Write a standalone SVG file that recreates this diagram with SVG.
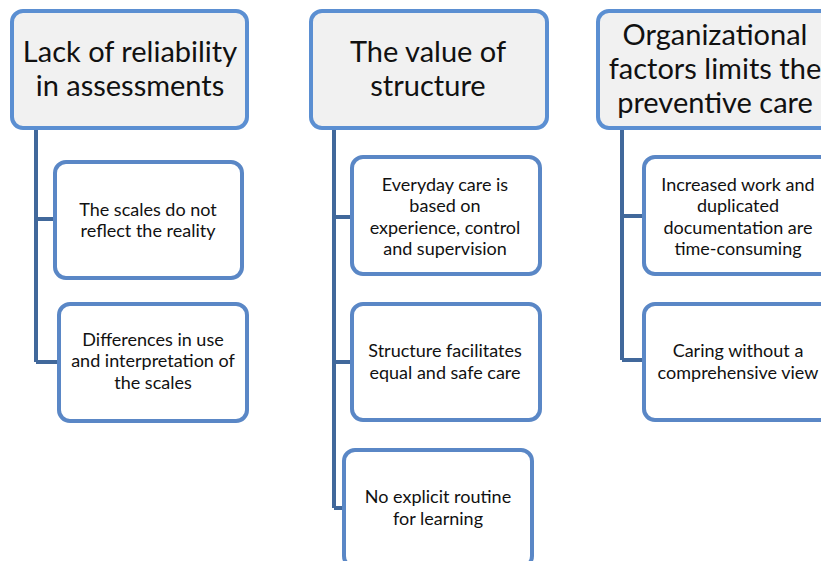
<svg xmlns="http://www.w3.org/2000/svg" width="821" height="561" viewBox="0 0 821 561">
  <style>
    .head rect { fill: #f1f1f1; stroke: #5b8fd2; stroke-width: 4; }
    .item rect { fill: #ffffff; stroke: #5a87c6; stroke-width: 4; }
    .head text { font-family: Lato, "Open Sans", sans-serif; font-size: 29px; fill: #111; text-anchor: middle; }
    .item text { font-family: Lato, "Open Sans", sans-serif; font-size: 18px; fill: #111; text-anchor: middle; }
    .links path { fill: none; stroke: #41689b; stroke-width: 4; }
  </style>

  <g class="links">
    <path d="M36 128 V362 M36 219 H55 M36 362 H59"/>
    <path d="M334 128 V508 M334 217 H352 M334 362 H352 M334 508 H344"/>
    <path d="M622 128 V360 M622 216 H644 M622 360 H644"/>
  </g>

  <g id="lack-reliability" class="head">
    <rect x="12" y="11" width="235" height="117" rx="11"/>
    <text x="130" y="62">Lack of reliability</text>
    <text x="130" y="96">in assessments</text>
  </g>
  <g id="scales-reality" class="item">
    <rect x="55" y="162" width="187" height="116" rx="11"/>
    <text x="148" y="216">The scales do not</text>
    <text x="148" y="237">reflect the reality</text>
  </g>
  <g id="scales-use" class="item">
    <rect x="59" y="304" width="188" height="117" rx="11"/>
    <text x="153" y="346">Differences in use</text>
    <text x="153" y="367">and interpretation of</text>
    <text x="153" y="389">the scales</text>
  </g>

  <g id="value-structure" class="head">
    <rect x="311" y="11" width="236" height="117" rx="11"/>
    <text x="428" y="62">The value of</text>
    <text x="428" y="96">structure</text>
  </g>
  <g id="everyday-care" class="item">
    <rect x="352" y="157" width="188" height="117" rx="11"/>
    <text x="445" y="191">Everyday care is</text>
    <text x="445" y="212">based on</text>
    <text x="445" y="234">experience, control</text>
    <text x="445" y="255">and supervision</text>
  </g>
  <g id="equal-care" class="item">
    <rect x="352" y="304" width="188" height="116" rx="11"/>
    <text x="445" y="357">Structure facilitates</text>
    <text x="445" y="379">equal and safe care</text>
  </g>
  <g id="no-routine" class="item">
    <rect x="344" y="450" width="188" height="117" rx="11"/>
    <text x="438" y="503">No explicit routine</text>
    <text x="438" y="525">for learning</text>
  </g>

  <g id="organizational" class="head">
    <rect x="598" y="11" width="236" height="117" rx="11"/>
    <text x="715" y="45">Organizational</text>
    <text x="715" y="79">factors limits the</text>
    <text x="715" y="113">preventive care</text>
  </g>
  <g id="increased-work" class="item">
    <rect x="644" y="157" width="188" height="117" rx="11"/>
    <text x="738" y="191">Increased work and</text>
    <text x="738" y="212">duplicated</text>
    <text x="738" y="234">documentation are</text>
    <text x="738" y="255">time-consuming</text>
  </g>
  <g id="comprehensive-view" class="item">
    <rect x="644" y="304" width="188" height="116" rx="11"/>
    <text x="738" y="357">Caring without a</text>
    <text x="738" y="379">comprehensive view</text>
  </g>
</svg>
